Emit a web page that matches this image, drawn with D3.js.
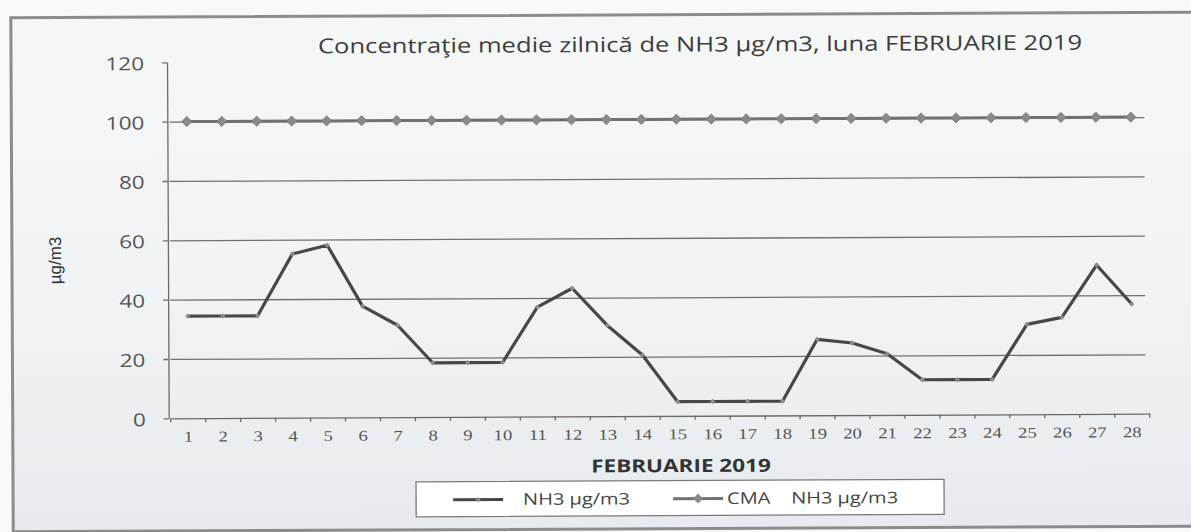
<!DOCTYPE html>
<html>
<head>
<meta charset="utf-8">
<script src="https://cdn.jsdelivr.net/npm/d3@7"></script>
<style>
    html, body { margin: 0; overflow: hidden; background: #f7f8f8; }
    svg { display: block; }
    .legend text { white-space: pre; }
</style>
</head>
<body>
<svg id="chart"></svg>
<script>
// values
var days = ["1", "2", "3", "4", "5", "6", "7", "8", "9", "10", "11", "12", "13", "14",
    "15", "16", "17", "18", "19", "20", "21", "22", "23", "24", "25", "26", "27", "28"];
var nh3 = [34.4, 34.4, 34.4, 55.2, 58.1, 37.5, 31, 18.3, 18.3, 18.3, 36.9, 43.2, 30.6, 20.6,
    4.8, 4.8, 4.8, 4.8, 25.6, 24.3, 20.6, 11.8, 11.8, 11.8, 30.3, 32.6, 50.2, 37];
var cma = [100, 100, 100, 100, 100, 100, 100, 100, 100, 100, 100, 100, 100, 100,
    100, 100, 100, 100, 100, 100, 100, 100, 100, 100, 100, 100, 100, 100];
var yTicks = [0, 20, 40, 60, 80, 100, 120];
var gridTicks = [20, 40, 60, 80, 100];
var seriesNames = ["NH3 µg/m3", "CMA    NH3 µg/m3"];
var chartTitle = "Concentraţie medie zilnică de NH3 µg/m3, luna FEBRUARIE 2019";
var xTitle = "FEBRUARIE 2019";
var yTitle = "µg/m3";

var width = 1191;
var height = 532;
var stretch = "scale(1.25,1)"; // the scan is wider than it is tall

var svg = d3.select('#chart')
    .attr("width", width)
    .attr("height", height);

var defs = svg.append("defs");
var grad = defs.append("linearGradient")
    .attr("id", "paper")
    .attr("x1", 0).attr("y1", 0).attr("x2", 0).attr("y2", 1);
grad.append("stop").attr("offset", "0%").attr("stop-color", "#f5f7f7");
grad.append("stop").attr("offset", "60%").attr("stop-color", "#f0f3f5");
grad.append("stop").attr("offset", "100%").attr("stop-color", "#e7eaee");

svg.append("rect")
    .attr("width", width)
    .attr("height", height)
    .attr("fill", "#f8f9f9");

// whole sheet is tilted a little in the scan
var root = svg.append("g")
    .attr("transform", "rotate(-0.27,595,266)");

// chart area runs off the right edge of the scan
root.append("rect")
    .attr("x", 12)
    .attr("y", 15)
    .attr("width", 1300)
    .attr("height", 514)
    .attr("fill", "url(#paper)");

root.append("path")
    .attr("d", "M1320,15H12V529H1320")
    .attr("fill", "none")
    .attr("stroke", "#8c8c8c")
    .attr("stroke-width", 3);

var x = d3.scaleBand()
    .domain(days)
    .range([170, 1149]);

var y = d3.scaleLinear()
    .domain([0, 120])
    .range([416.3, 60.3]);

var cx = function (d, i) { return x(days[i]) + x.bandwidth() / 2; };

// gridlines
root.append("g")
    .attr("class", "grid")
    .attr("transform", "translate(" + x.range()[0] + ",0)")
    .call(d3.axisLeft(y)
        .tickValues(gridTicks)
        .tickSize(-(x.range()[1] - x.range()[0] - 4))
        .tickFormat(""))
    .call(g => g.select(".domain").remove())
    .call(g => g.selectAll("line")
        .attr("stroke", "#707070")
        .attr("stroke-width", 1.3));

// y axis
var yAxis = root.append("g")
    .attr("transform", "translate(" + (x.range()[0] - 2) + ",0)")
    .call(d3.axisLeft(y)
        .tickValues(yTicks)
        .tickSize(5)
        .tickSizeOuter(0));
yAxis.select(".domain").attr("stroke", "#6a6a6a").attr("stroke-width", 1.3);
yAxis.selectAll(".tick line").attr("stroke", "#6a6a6a").attr("stroke-width", 1.3);
yAxis.selectAll(".tick text")
    .attr("x", 0)
    .attr("dy", "0.4em")
    .attr("transform", "translate(-23,0) " + stretch)
    .attr("fill", "#555")
    .style("font-family", "'Open Sans', sans-serif")
    .style("font-size", "18px");

// x axis: labels in the middle of each day, ticks between days
var xAxis = root.append("g")
    .attr("transform", "translate(0," + y(0) + ")")
    .call(d3.axisBottom(x).tickSize(0).tickSizeOuter(0));
xAxis.select(".domain").attr("stroke", "#6a6a6a").attr("stroke-width", 1.3);
xAxis.selectAll(".tick text")
    .attr("y", 0)
    .attr("dy", 0)
    .attr("transform", "translate(0,23.4) " + stretch)
    .attr("fill", "#555")
    .style("font-family", "'Liberation Serif', serif")
    .style("font-size", "15px");
xAxis.selectAll(".boundary")
    .data(days.map(d => x(d)).concat([x.range()[1]]))
    .enter()
    .append("line")
    .classed("boundary", true)
    .attr("x1", d => d)
    .attr("x2", d => d)
    .attr("y1", 0)
    .attr("y2", 4)
    .attr("stroke", "#6a6a6a")
    .attr("stroke-width", 1.3);

// titles
root.append("g")
    .attr("transform", "translate(701,52)")
    .append("text")
    .attr("transform", stretch)
    .attr("text-anchor", "middle")
    .attr("fill", "#3d3d3d")
    .style("font-family", "'Open Sans', sans-serif")
    .style("font-size", "20.5px")
    .text(chartTitle);

root.append("g")
    .attr("transform", "translate(680,472.4)")
    .append("text")
    .attr("transform", stretch)
    .attr("text-anchor", "middle")
    .attr("fill", "#333")
    .style("font-family", "'Open Sans', sans-serif")
    .style("font-weight", "bold")
    .style("font-size", "18px")
    .text(xTitle);

root.append("text")
    .attr("transform", "translate(61,258) rotate(-90)")
    .attr("text-anchor", "middle")
    .attr("fill", "#333")
    .style("font-family", "'Liberation Sans', sans-serif")
    .style("font-size", "17px")
    .text(yTitle);

// series
var line = d3.line()
    .x(cx)
    .y(d => y(d));

var diamond = function (size) {
    return d3.symbol().type(d3.symbolSquare).size(size)();
};

root.append("path")
    .datum(cma)
    .attr("d", line)
    .attr("fill", "none")
    .attr("stroke", "#707070")
    .attr("stroke-width", 3);

root.selectAll(".cma")
    .data(cma)
    .enter()
    .append("path")
    .classed("cma", true)
    .attr("d", diamond(52))
    .attr("transform", (d, i) => "translate(" + cx(d, i) + "," + y(d) + ") rotate(45)")
    .attr("fill", "#8a8a8a")
    .attr("stroke", "#7a7a7a")
    .attr("stroke-width", 0.8);

root.append("path")
    .datum(nh3)
    .attr("d", line)
    .attr("fill", "none")
    .attr("stroke", "#474747")
    .attr("stroke-width", 3.2)
    .attr("stroke-linejoin", "round");

root.selectAll(".nh3")
    .data(nh3)
    .enter()
    .append("path")
    .classed("nh3", true)
    .attr("d", diamond(14))
    .attr("transform", (d, i) => "translate(" + cx(d, i) + "," + y(d) + ") rotate(45)")
    .attr("fill", "#8e8e8e");

// legend
var legend = root.append("g").classed("legend", true);

legend.append("rect")
    .attr("x", 415)
    .attr("y", 481)
    .attr("width", 528)
    .attr("height", 35)
    .attr("fill", "#ffffff")
    .attr("stroke", "#7a7a7a")
    .attr("stroke-width", 1.3);

var legendItems = [
    { name: seriesNames[0], x0: 452, tx: 70, color: "#474747", marker: 14, mfill: "#8e8e8e" },
    { name: seriesNames[1], x0: 672, tx: 54, color: "#707070", marker: 52, mfill: "#8a8a8a" }
];

var item = legend.selectAll(".item")
    .data(legendItems)
    .enter()
    .append("g")
    .classed("item", true)
    .attr("transform", d => "translate(" + d.x0 + ",499)");

item.append("line")
    .attr("x1", 0)
    .attr("x2", 50)
    .attr("stroke", d => d.color)
    .attr("stroke-width", 3);

item.append("path")
    .attr("d", d => diamond(d.marker))
    .attr("transform", "translate(25,0) rotate(45)")
    .attr("fill", d => d.mfill);

item.append("g")
    .attr("transform", d => "translate(" + d.tx + ",5.5)")
    .append("text")
    .attr("transform", stretch)
    .attr("fill", "#444")
    .style("font-family", "'Open Sans', sans-serif")
    .style("font-size", "16px")
    .text(d => d.name);
</script>
</body>
</html>
